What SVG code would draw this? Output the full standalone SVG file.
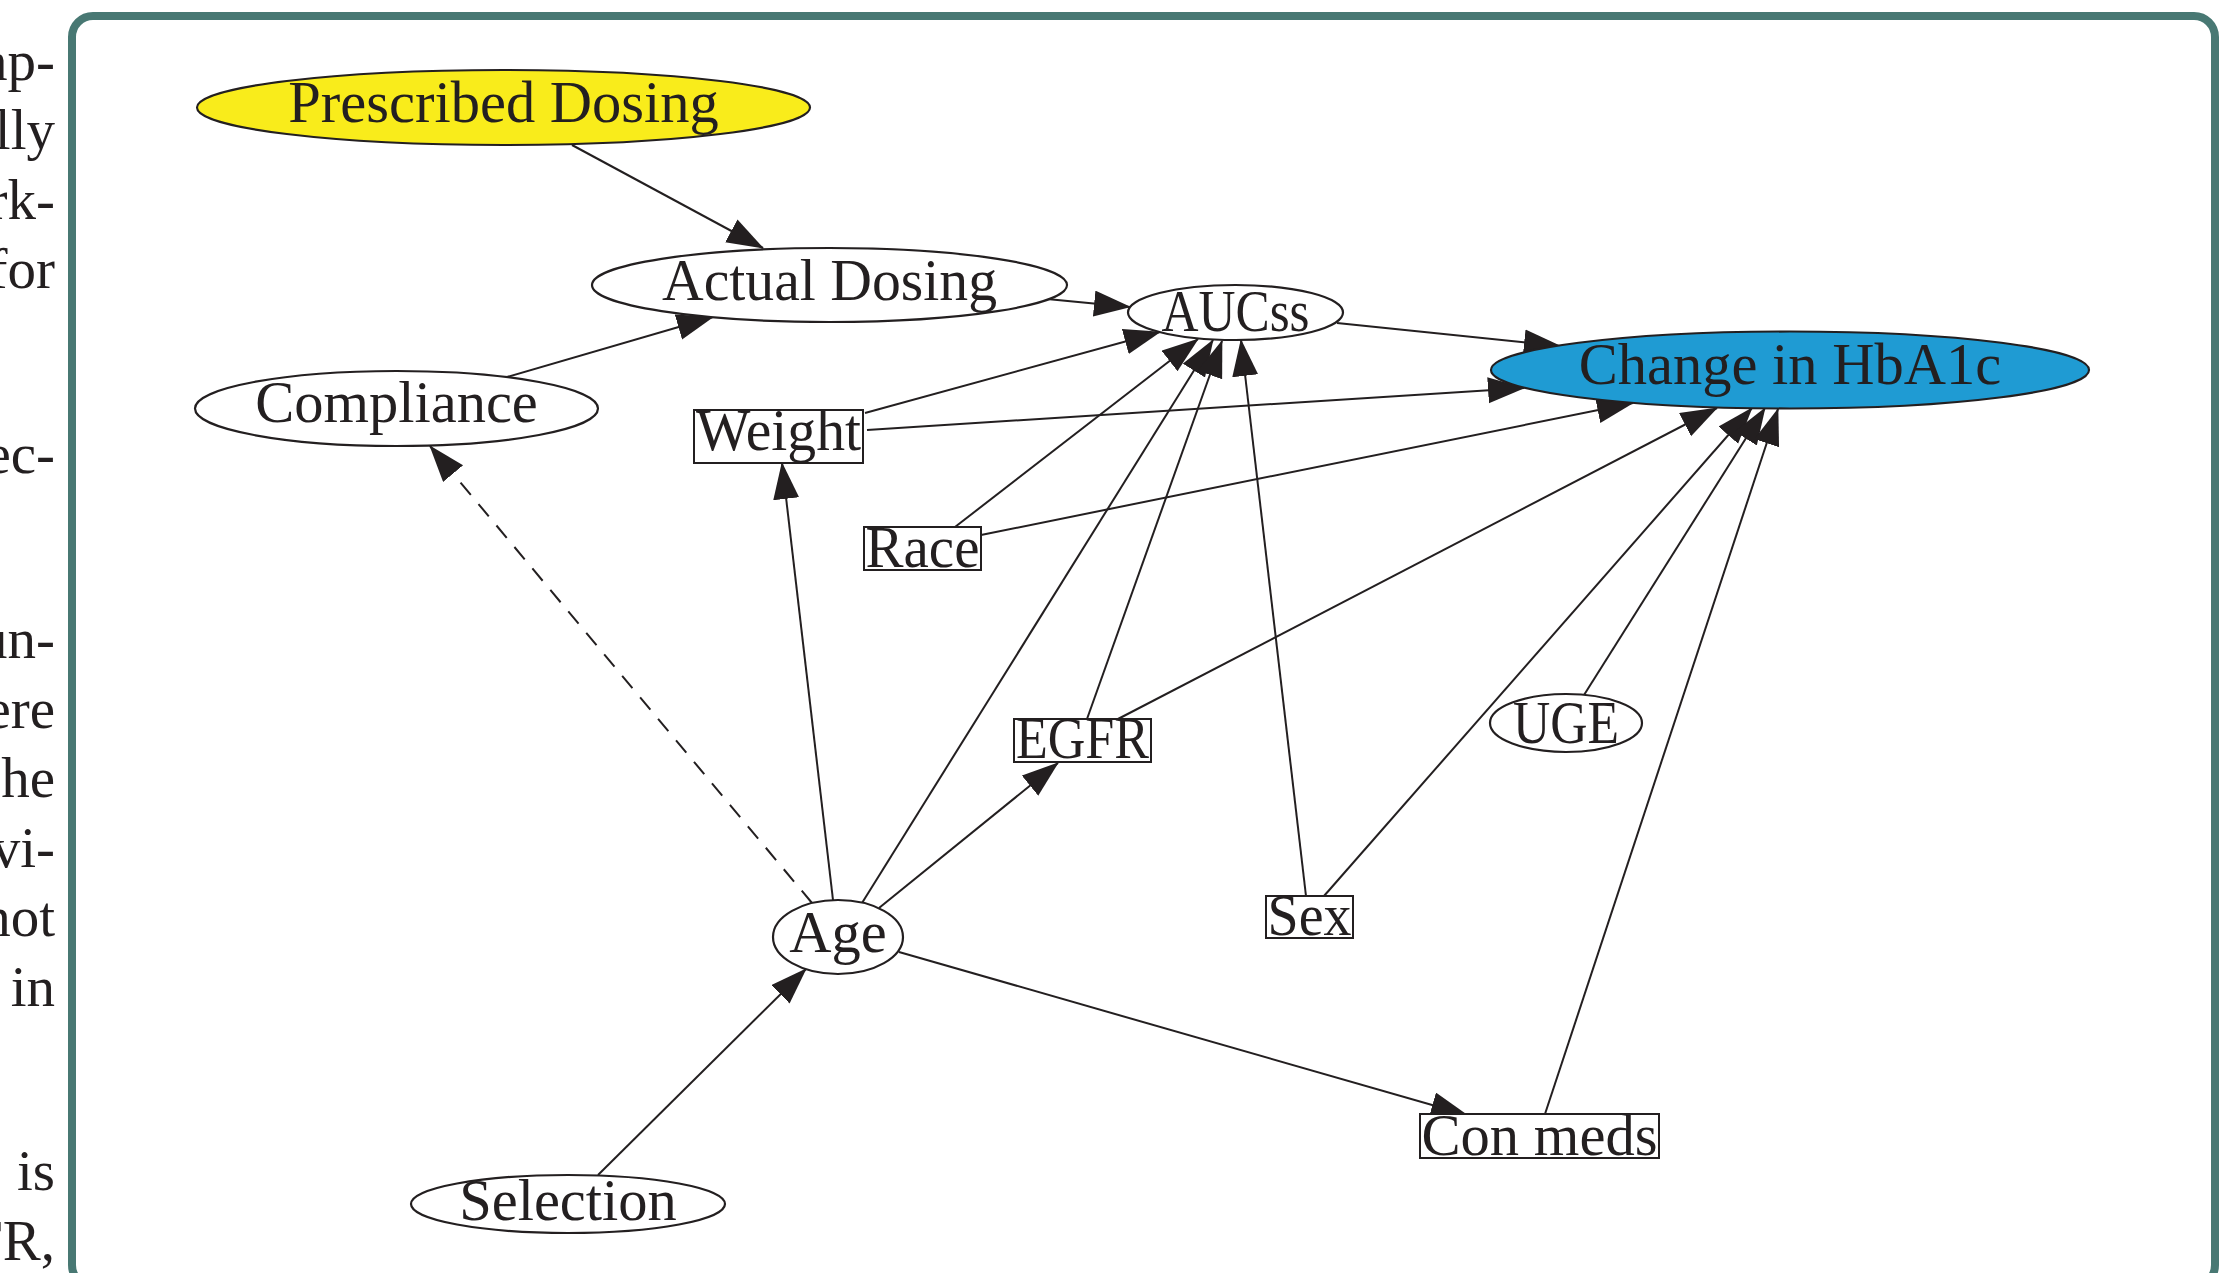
<svg xmlns="http://www.w3.org/2000/svg" width="2233" height="1273" viewBox="0 0 2233 1273">
<defs>
<style>
.para{font-family:"Liberation Serif",serif;font-size:57px;fill:#231F20;text-anchor:end}
.lbl{font-family:"Liberation Serif",serif;font-size:58.5px;fill:#231F20;text-anchor:middle}
.el{fill:#ffffff;stroke:#231F20;stroke-width:2.2}
.bx{fill:#ffffff;stroke:#231F20;stroke-width:2}
.edge{fill:none;stroke:#231F20;stroke-width:2;marker-end:url(#arr)}
.dash{stroke-dasharray:16 12}
</style>
<marker id="arr" markerUnits="userSpaceOnUse" markerWidth="38" markerHeight="28" refX="36" refY="13" orient="auto">
<path d="M0,0 L37,13 L0,26 z" fill="#231F20"/>
</marker>
</defs>
<rect x="0" y="0" width="2233" height="1273" fill="#ffffff"/>
<g id="paragraph">
<text class="para" x="55" y="80">ap-</text>
<text class="para" x="55" y="149">lly</text>
<text class="para" x="55" y="218.5">rk-</text>
<text class="para" x="55" y="288">for</text>
<text class="para" x="55" y="473">ec-</text>
<text class="para" x="55" y="658">un-</text>
<text class="para" x="55" y="727.5">ere</text>
<text class="para" x="55" y="797">he</text>
<text class="para" x="55" y="866.5">vi-</text>
<text class="para" x="55" y="936">not</text>
<text class="para" x="55" y="1005.5">in</text>
<text class="para" x="55" y="1190">is</text>
<text class="para" x="55" y="1259.5">FR,</text>
</g>
<g id="frame">
<rect x="72" y="16" width="2143" height="1270" rx="21" ry="21" fill="none" stroke="#487873" stroke-width="8"/>
</g>
<g id="connectors">
<line class="edge" x1="572" y1="145" x2="763" y2="248"/>
<line class="edge" x1="507" y1="377" x2="713" y2="317"/>
<line class="edge" x1="1047" y1="299" x2="1130" y2="307"/>
<line class="edge" x1="865" y1="413" x2="1160" y2="332"/>
<line class="edge" x1="867" y1="430" x2="1524" y2="388"/>
<line class="edge" x1="955" y1="527" x2="1198" y2="339"/>
<line class="edge" x1="981" y1="535" x2="1633" y2="403"/>
<line class="edge" x1="1337" y1="323" x2="1560" y2="346"/>
<line class="edge" x1="862" y1="903" x2="1213" y2="340"/>
<line class="edge" x1="1087" y1="719" x2="1222" y2="341"/>
<line class="edge" x1="1306" y1="896" x2="1241" y2="340"/>
<line class="edge" x1="1118" y1="719" x2="1717" y2="408"/>
<line class="edge" x1="1324" y1="896" x2="1752" y2="408"/>
<line class="edge" x1="1584" y1="695" x2="1765" y2="408"/>
<line class="edge" x1="1545" y1="1114" x2="1778" y2="409"/>
<line class="edge" x1="833" y1="900" x2="782" y2="463"/>
<line class="edge" x1="879" y1="908" x2="1058" y2="763"/>
<line class="edge dash" x1="812" y1="903" x2="430" y2="446"/>
<line class="edge" x1="899" y1="952" x2="1467" y2="1115"/>
<line class="edge" x1="598" y1="1175" x2="806" y2="969"/>
</g>
<g id="n_prescribed">
<ellipse cx="503.5" cy="107.5" rx="306.5" ry="37.5" fill="#F9EC1B" stroke="#231F20" stroke-width="2.2"/>
<text class="lbl" x="503.5" y="122">Prescribed Dosing</text>
</g>
<g id="n_actual">
<ellipse class="el" cx="829.5" cy="285" rx="237.5" ry="37"/>
<text class="lbl" x="829.5" y="300" textLength="335" lengthAdjust="spacingAndGlyphs">Actual Dosing</text>
</g>
<g id="n_compliance">
<ellipse class="el" cx="396.5" cy="408.5" rx="201.5" ry="37.5"/>
<text class="lbl" x="396.5" y="422">Compliance</text>
</g>
<g id="n_aucss">
<ellipse class="el" cx="1235.5" cy="312.5" rx="107.5" ry="27.5"/>
<text class="lbl" x="1235.5" y="331" textLength="148" lengthAdjust="spacingAndGlyphs">AUCss</text>
</g>
<g id="n_hba1c">
<ellipse cx="1790" cy="370" rx="299" ry="38.5" fill="#1F9BD3" stroke="#231F20" stroke-width="2.2"/>
<text class="lbl" x="1790" y="384">Change in HbA1c</text>
</g>
<g id="n_weight">
<rect class="bx" x="694" y="410" width="169" height="53"/>
<text class="lbl" x="778.5" y="450" textLength="165" lengthAdjust="spacingAndGlyphs">Weight</text>
</g>
<g id="n_race">
<rect class="bx" x="864" y="527" width="117" height="43"/>
<text class="lbl" x="922.5" y="567" textLength="114" lengthAdjust="spacingAndGlyphs">Race</text>
</g>
<g id="n_egfr">
<rect class="bx" x="1014" y="719" width="137" height="43"/>
<text class="lbl" x="1082.5" y="758" textLength="133" lengthAdjust="spacingAndGlyphs">EGFR</text>
</g>
<g id="n_sex">
<rect class="bx" x="1266" y="896" width="87" height="42"/>
<text class="lbl" x="1309.5" y="935" textLength="84" lengthAdjust="spacingAndGlyphs">Sex</text>
</g>
<g id="n_conmeds">
<rect class="bx" x="1420" y="1114" width="239" height="44"/>
<text class="lbl" x="1539.5" y="1155" textLength="236" lengthAdjust="spacingAndGlyphs">Con meds</text>
</g>
<g id="n_age">
<ellipse class="el" cx="838" cy="937" rx="65" ry="37"/>
<text class="lbl" x="838" y="952">Age</text>
</g>
<g id="n_uge">
<ellipse class="el" cx="1566" cy="723" rx="76" ry="29"/>
<text class="lbl" x="1566" y="743" style="font-size:62px" textLength="106" lengthAdjust="spacingAndGlyphs">UGE</text>
</g>
<g id="n_selection">
<ellipse class="el" cx="568" cy="1204" rx="157" ry="29"/>
<text class="lbl" x="568" y="1220">Selection</text>
</g>
</svg>
